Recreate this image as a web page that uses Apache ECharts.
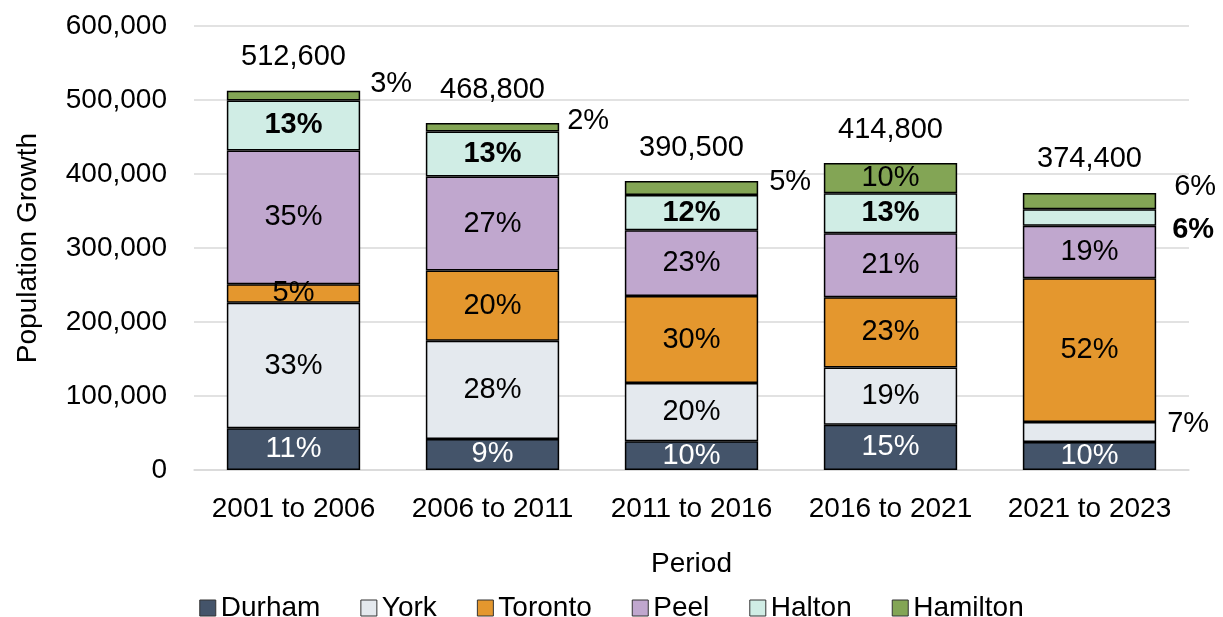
<!DOCTYPE html>
<html>
<head>
<meta charset="utf-8">
<title>Population Growth by Period</title>
<script src="https://cdn.jsdelivr.net/npm/echarts@6/dist/echarts.min.js"></script>
<style>
  html, body { margin: 0; padding: 0; background: #fff; }
  #chart { width: 1223px; height: 617px; }
</style>
</head>
<body>
<div id="chart"></div>
<script>
// periods on the x axis
var periods = ["2001 to 2006", "2006 to 2011", "2011 to 2016", "2016 to 2021", "2021 to 2023"];

// growth per region
var durham   = [56400, 42000, 39000, 61000, 38000];
var york     = [169600, 132500, 78500, 77500, 27000];
var toronto  = [25100, 95000, 117500, 95000, 194000];
var peel     = [180800, 127000, 89000, 86500, 71000];
var halton   = [67500, 61000, 47500, 54000, 22300];
var hamilton = [13200, 11300, 19000, 40800, 22100];

// y axis ticks
var yMin = 0;
var yMax = 600000;
var yStep = 100000;

var regions = [
  { name: "Durham",   values: durham,   color: "#44546A", text: "#fff", bold: false },
  { name: "York",     values: york,     color: "#E4E9EE", text: "#000", bold: false },
  { name: "Toronto",  values: toronto,  color: "#E4972E", text: "#000", bold: false },
  { name: "Peel",     values: peel,     color: "#C0A7CE", text: "#000", bold: false },
  { name: "Halton",   values: halton,   color: "#D0EDE5", text: "#000", bold: true },
  { name: "Hamilton", values: hamilton, color: "#83A555", text: "#000", bold: false }
];

// labels that sit to the right of the bar: index -> [distance, dy]
var outside = {
  York: { 4: [11, -8] },
  Halton: { 4: [16, 12] },
  Hamilton: { 0: [10, -12], 1: [8, -6], 2: [11, -6], 4: [18, -14] }
};

var totals = periods.map(function (p, i) {
  var s = 0;
  regions.forEach(function (r) { s += r.values[i]; });
  return s;
});

function fmt(v) {
  return v.toLocaleString("en-US");
}

var font = "'Liberation Sans', Arial, sans-serif";

var series = regions.map(function (r) {
  var data = r.values.map(function (v, i) {
    var o = outside[r.name] && outside[r.name][i];
    if (!o) return v;
    return {
      value: v,
      label: { position: "right", distance: o[0], offset: [0, o[1]], color: "#000" }
    };
  });
  return {
    name: r.name,
    type: "bar",
    stack: "total",
    barWidth: "67%",
    data: data,
    itemStyle: { color: r.color, borderColor: "#000", borderWidth: 1.5 },
    emphasis: { disabled: true },
    label: {
      show: true,
      position: "inside",
      color: r.text,
      fontSize: 29,
      fontFamily: font,
      fontWeight: r.bold ? "bold" : "normal",
      formatter: function (p) {
        return Math.round(p.value / totals[p.dataIndex] * 100) + "%";
      }
    }
  };
});

// totals above each bar: an empty segment on top of the stack carries the label
series.push({
  name: "Total",
  type: "bar",
  stack: "total",
  barWidth: "67%",
  data: totals.map(function () { return 0; }),
  itemStyle: { color: "rgba(0,0,0,0)", borderWidth: 0 },
  emphasis: { disabled: true },
  silent: true,
  label: {
    show: true,
    position: "top",
    distance: 19,
    color: "#000",
    fontSize: 29,
    fontFamily: font,
    formatter: function (p) { return fmt(totals[p.dataIndex]); }
  }
});

var chart = echarts.init(document.getElementById("chart"));
chart.setOption({
  animation: false,
  backgroundColor: "#fff",
  textStyle: { fontFamily: font, color: "#000" },
  grid: { left: 194, right: 34, top: 26, bottom: 147 },
  legend: {
    data: regions.map(function (r) { return r.name; }),
    top: 589,
    left: "center",
    icon: "rect",
    itemWidth: 16,
    itemHeight: 16,
    itemGap: 40,
    itemStyle: { borderColor: "#333", borderWidth: 1 },
    textStyle: { fontSize: 28, color: "#000", fontFamily: font }
  },
  xAxis: {
    type: "category",
    data: periods,
    name: "Period",
    nameLocation: "middle",
    nameGap: 80,
    nameTextStyle: { fontSize: 28, color: "#000" },
    axisLine: { lineStyle: { color: "#D9D9D9", width: 1.5 } },
    axisTick: { show: false },
    axisLabel: { fontSize: 28, color: "#000", margin: 25, interval: 0 }
  },
  yAxis: {
    type: "value",
    min: yMin,
    max: yMax,
    interval: yStep,
    name: "Population Growth",
    nameLocation: "middle",
    nameGap: 152,
    nameTextStyle: { fontSize: 28, color: "#000" },
    axisLine: { show: false },
    axisTick: { show: false },
    axisLabel: { fontSize: 28, color: "#000", margin: 27, formatter: fmt },
    splitLine: { lineStyle: { color: "#D9D9D9", width: 1.5 } }
  },
  series: series
});
</script>
</body>
</html>
